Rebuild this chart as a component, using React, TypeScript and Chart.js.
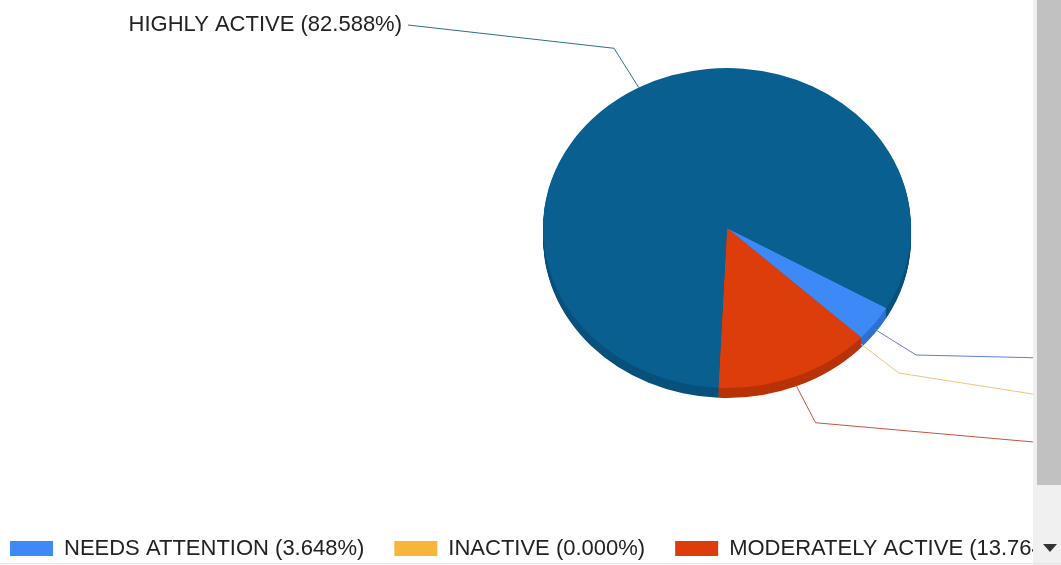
import React, { useEffect, useRef } from 'react';
import { Chart, registerables } from 'chart.js';

Chart.register(...registerables);

// ---- data ----
const categories = ['NEEDS ATTENTION', 'INACTIVE', 'MODERATELY ACTIVE', 'HIGHLY ACTIVE'];
const shares = [3.648, 0.0, 13.764, 82.588];
const sliceColors = ['#3d89f5', '#f7b53b', '#dc3d0a', '#0a5f91'];
const sideColors = ['#2f6fcf', '#d99a2a', '#b83208', '#08517c'];
const leaderColors = ['#5b80d8', '#efc57a', '#c4553c', '#2a6f96'];
const legendCount = 3; // items shown on the first legend page

const labelText = (i: number) => `${categories[i]} (${shares[i].toFixed(3)}%)`;

// ---- layout constants (not data) ----
const CW = 1033;
const CH = 565;
const K = 160 / 184; // vertical squash of the pie
const DEPTH = 10;
const FONT = '22px "Liberation Sans", Arial, sans-serif';
const labelAnchors = [
  { x: 1045, y: 358, align: 'left' as const },
  { x: 1045, y: 396, align: 'left' as const },
  { x: 1045, y: 443, align: 'left' as const },
  { x: 408, y: 25, align: 'right' as const },
];

const pie3d = {
  id: 'pie3d',
  beforeDatasetsDraw(chart: any) {
    const meta = chart.getDatasetMeta(0);
    const a0 = meta.data[0];
    if (!a0) return;
    const cy = a0.y;
    const ctx = chart.ctx as CanvasRenderingContext2D;
    ctx.save();
    ctx.translate(0, cy);
    ctx.scale(1, K);
    ctx.translate(0, -cy);
    for (let d = DEPTH; d >= 1; d--) {
      meta.data.forEach((a: any, i: number) => {
        const p = a.getProps(['x', 'y', 'startAngle', 'endAngle', 'outerRadius'], true);
        if (p.endAngle - p.startAngle <= 0) return;
        ctx.beginPath();
        ctx.moveTo(p.x, p.y + d / K);
        ctx.arc(p.x, p.y + d / K, p.outerRadius, p.startAngle, p.endAngle);
        ctx.closePath();
        ctx.fillStyle = sideColors[i];
        ctx.fill();
      });
    }
  },
  afterDatasetsDraw(chart: any) {
    chart.ctx.restore();
  },
  afterDraw(chart: any) {
    const ctx = chart.ctx as CanvasRenderingContext2D;
    const meta = chart.getDatasetMeta(0);
    ctx.save();
    // leader lines + labels
    meta.data.forEach((a: any, i: number) => {
      const p = a.getProps(['x', 'y', 'startAngle', 'endAngle', 'outerRadius'], true);
      const mid = (p.startAngle + p.endAngle) / 2;
      const c = Math.cos(mid);
      const s = Math.sin(mid);
      const rx = p.outerRadius;
      const ry = p.outerRadius * K;
      const sx = p.x + rx * c;
      const sy = p.y + ry * s + (s > 0 ? DEPTH * s : 0);
      const ex = p.x + 1.28 * rx * c;
      const ey = p.y + 1.28 * ry * s + (s > 0 ? DEPTH * 0.5 : 0);
      const an = labelAnchors[i];
      ctx.beginPath();
      ctx.moveTo(sx, sy);
      ctx.lineTo(ex, ey);
      ctx.lineTo(an.x, an.y);
      ctx.strokeStyle = leaderColors[i];
      ctx.lineWidth = 1;
      ctx.stroke();
      ctx.font = FONT;
      ctx.fillStyle = '#222222';
      ctx.textBaseline = 'middle';
      ctx.textAlign = an.align;
      ctx.fillText(labelText(i), an.align === 'right' ? an.x - 6 : an.x + 6, an.y);
    });
    // legend (first page)
    ctx.font = FONT;
    ctx.textAlign = 'left';
    ctx.textBaseline = 'middle';
    let x = 10;
    const ly = 549;
    for (let i = 0; i < legendCount; i++) {
      ctx.fillStyle = sliceColors[i];
      ctx.fillRect(x, ly - 8, 43, 15);
      ctx.fillStyle = '#222222';
      const t = labelText(i);
      ctx.fillText(t, x + 54, ly);
      x += 54 + ctx.measureText(t).width + 30;
    }
    ctx.restore();
  },
};

export default function App() {
  const ref = useRef<HTMLCanvasElement | null>(null);
  useEffect(() => {
    if (!ref.current) return;
    const chart = new Chart(ref.current, {
      type: 'pie',
      data: {
        labels: categories,
        datasets: [
          {
            data: shares,
            backgroundColor: sliceColors,
            borderWidth: 0,
          },
        ],
      },
      options: {
        responsive: false,
        animation: false,
        rotation: 120,
        layout: { padding: { left: 543, right: 122, top: 44, bottom: 153 } },
        plugins: { legend: { display: false }, tooltip: { enabled: false } },
      },
      plugins: [pie3d],
    });
    return () => chart.destroy();
  }, []);

  return (
    <div style={{ position: 'absolute', left: 0, top: 0, width: 1061, height: 565, background: '#fff', overflow: 'hidden' }}>
      <canvas ref={ref} width={CW} height={CH} style={{ position: 'absolute', left: 0, top: 0, width: CW, height: CH }} />
      <div style={{ position: 'absolute', left: 1033, top: 0, width: 28, height: 565, background: '#f0f0f0' }} />
      <div style={{ position: 'absolute', left: 1037, top: 0, width: 24, height: 485, background: '#c1c1c1' }} />
      <div
        style={{
          position: 'absolute',
          left: 1043,
          top: 544,
          width: 0,
          height: 0,
          borderLeft: '7px solid transparent',
          borderRight: '7px solid transparent',
          borderTop: '8px solid #333',
        }}
      />
      <div style={{ position: 'absolute', left: 0, top: 563, width: 1061, height: 1, background: '#e6e6e6' }} />
    </div>
  );
}
